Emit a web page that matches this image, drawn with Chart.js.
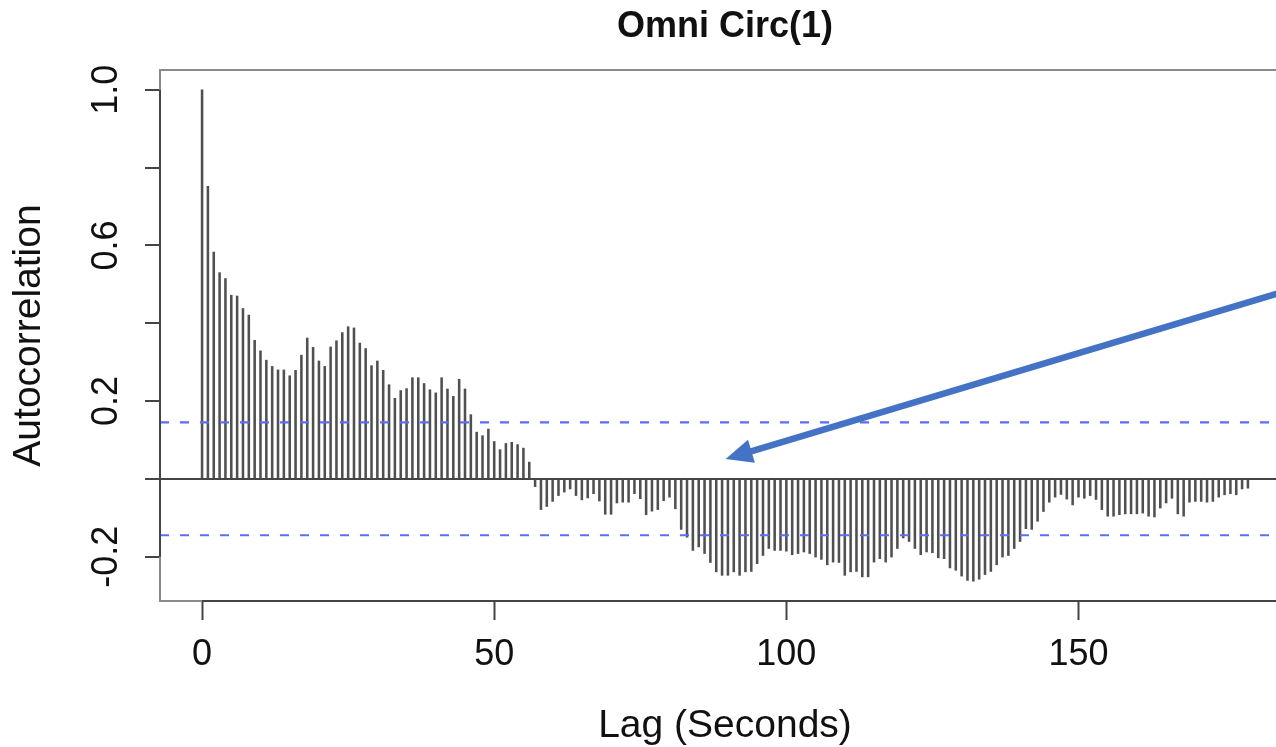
<!DOCTYPE html>
<html>
<head>
<meta charset="utf-8">
<title>Omni Circ(1)</title>
<script src="https://cdn.jsdelivr.net/npm/chart.js@4.4.1/dist/chart.umd.min.js"></script>
<style>
  html, body { margin: 0; padding: 0; background: #fff; overflow: hidden; }
  #wrap { width: 1450px; height: 747px; }
</style>
</head>
<body>
<div id="wrap"><canvas id="acf" width="1450" height="747"></canvas></div>
<script>
// autocorrelation per lag (lag 0 .. 179)
var acfValues = [
  1.000, 0.752, 0.583, 0.530, 0.515, 0.472, 0.470, 0.438, 0.421, 0.356,
  0.329, 0.305, 0.289, 0.280, 0.280, 0.265, 0.279, 0.318, 0.362, 0.338,
  0.303, 0.289, 0.339, 0.355, 0.376, 0.391, 0.388, 0.349, 0.335, 0.291,
  0.303, 0.279, 0.242, 0.207, 0.227, 0.232, 0.260, 0.260, 0.245, 0.229,
  0.221, 0.260, 0.231, 0.212, 0.256, 0.231, 0.165, 0.120, 0.111, 0.128,
  0.096, 0.075, 0.091, 0.094, 0.088, 0.079, 0.043, -0.020, -0.079, -0.071,
  -0.058, -0.043, -0.034, -0.026, -0.043, -0.054, -0.049, -0.038, -0.057, -0.091,
  -0.091, -0.062, -0.060, -0.060, -0.038, -0.051, -0.092, -0.083, -0.079, -0.056,
  -0.047, -0.077, -0.130, -0.150, -0.184, -0.175, -0.192, -0.215, -0.239, -0.248,
  -0.248, -0.239, -0.248, -0.239, -0.238, -0.218, -0.197, -0.179, -0.184, -0.184,
  -0.186, -0.195, -0.192, -0.188, -0.192, -0.201, -0.207, -0.221, -0.214, -0.215,
  -0.248, -0.239, -0.238, -0.252, -0.252, -0.214, -0.205, -0.214, -0.201, -0.179,
  -0.152, -0.161, -0.179, -0.195, -0.188, -0.190, -0.203, -0.205, -0.229, -0.235,
  -0.250, -0.261, -0.263, -0.258, -0.246, -0.238, -0.221, -0.201, -0.197, -0.179,
  -0.161, -0.128, -0.130, -0.109, -0.084, -0.060, -0.047, -0.040, -0.052, -0.067,
  -0.047, -0.050, -0.043, -0.053, -0.079, -0.096, -0.096, -0.092, -0.090, -0.090,
  -0.090, -0.088, -0.096, -0.098, -0.075, -0.062, -0.050, -0.090, -0.096, -0.060,
  -0.058, -0.058, -0.060, -0.058, -0.047, -0.041, -0.038, -0.041, -0.026, -0.024
];
var lags = acfValues.map(function (v, i) { return i; });

var confBounds = [0.145, -0.145];
var xRange = [-7.2, 186.2];
var yRange = [-0.314, 1.051];
var yLabelValues = [-0.2, 0.2, 0.6, 1.0];
var yLabelTexts = ['-0.2', '0.2', '0.6', '1.0'];

var chartTitle = 'Omni Circ(1)';
var xTitle = 'Lag (Seconds)';
var yTitle = 'Autocorrelation';

// annotation arrow, in data units (lag, acf)
var arrowFrom = { x: 186, y: 0.485 };
var arrowTo = { x: 89.6, y: 0.051 };

var fam = '"Liberation Sans", Arial, Helvetica, sans-serif';

var barData = lags.map(function (l, i) { return { x: l, y: acfValues[i] }; });
var confSets = confBounds.map(function (b) {
    return {
        type: 'line',
        data: [{ x: xRange[0], y: b }, { x: xRange[1], y: b }],
        borderColor: '#5b6df7',
        borderWidth: 2.2,
        borderDash: [9, 11],
        pointRadius: 0,
        order: 1
    };
});

var rStyle = {
    id: 'rStyle',
    afterDraw: function (chart) {
        var ctx = chart.ctx, a = chart.chartArea;
        var sx = chart.scales.x, sy = chart.scales.y;
        ctx.save();

        // box round the plot
        ctx.strokeStyle = '#8a8a8a';
        ctx.lineWidth = 2;
        ctx.strokeRect(a.left, a.top, a.right - a.left, a.bottom - a.top);

        // axis lines only over the tick span
        ctx.strokeStyle = '#444';
        ctx.beginPath();
        ctx.moveTo(a.left, sy.getPixelForValue(-0.2));
        ctx.lineTo(a.left, sy.getPixelForValue(1.0));
        ctx.moveTo(sx.getPixelForValue(0), a.bottom);
        ctx.lineTo(sx.getPixelForValue(200), a.bottom);
        ctx.stroke();

        // rotated y tick labels
        ctx.fillStyle = '#111';
        ctx.font = '36px ' + fam;
        ctx.textAlign = 'center';
        ctx.textBaseline = 'alphabetic';
        yLabelValues.forEach(function (v, i) {
            ctx.save();
            ctx.translate(a.left - 43, sy.getPixelForValue(v));
            ctx.rotate(-Math.PI / 2);
            ctx.fillText(yLabelTexts[i], 0, 0);
            ctx.restore();
        });

        // title over the plot region
        ctx.font = 'bold 36px ' + fam;
        ctx.fillText(chartTitle, (a.left + a.right) / 2, 37);

        // arrow
        var x1 = sx.getPixelForValue(arrowFrom.x), y1 = sy.getPixelForValue(arrowFrom.y);
        var x2 = sx.getPixelForValue(arrowTo.x), y2 = sy.getPixelForValue(arrowTo.y);
        var ang = Math.atan2(y2 - y1, x2 - x1);
        var headLen = 27, headW = 12;
        var bx = x2 - headLen * Math.cos(ang), by = y2 - headLen * Math.sin(ang);
        ctx.strokeStyle = '#4472c4';
        ctx.fillStyle = '#4472c4';
        ctx.lineWidth = 6.5;
        ctx.beginPath();
        ctx.moveTo(x1, y1);
        ctx.lineTo(bx + 3 * Math.cos(ang), by + 3 * Math.sin(ang));
        ctx.stroke();
        ctx.beginPath();
        ctx.moveTo(x2, y2);
        ctx.lineTo(bx + headW * Math.sin(ang), by - headW * Math.cos(ang));
        ctx.lineTo(bx - headW * Math.sin(ang), by + headW * Math.cos(ang));
        ctx.closePath();
        ctx.fill();

        ctx.restore();
    }
};

new Chart(document.getElementById('acf'), {
    type: 'bar',
    data: {
        datasets: [{
            data: barData,
            backgroundColor: '#505050',
            barThickness: 1.9,
            order: 2
        }].concat(confSets)
    },
    options: {
        responsive: false,
        animation: false,
        layout: { padding: { left: 0, right: 160, top: 70, bottom: 0 } },
        plugins: { legend: { display: false }, title: { display: false }, tooltip: { enabled: false } },
        scales: {
            x: {
                type: 'linear',
                min: xRange[0],
                max: xRange[1],
                offset: false,
                border: { display: false },
                grid: { drawOnChartArea: false, offset: false, tickLength: 19, tickColor: '#444', tickWidth: 2 },
                ticks: {
                    stepSize: 50, includeBounds: false, maxRotation: 0, autoSkip: false,
                    padding: 13, color: '#111', font: { family: fam, size: 36 }
                },
                title: {
                    display: true, text: xTitle, color: '#111',
                    font: { family: fam, size: 39, lineHeight: 1 },
                    padding: { top: 0, bottom: 1 }
                },
                afterFit: function (s) { s.height = 146; }
            },
            y: {
                min: yRange[0],
                max: yRange[1],
                border: { display: false },
                grid: {
                    color: function (c) { return c.tick && Math.abs(c.tick.value) < 1e-9 ? '#444' : 'rgba(0,0,0,0)'; },
                    lineWidth: 2,
                    tickLength: 15, tickColor: '#444', tickWidth: 2
                },
                ticks: { stepSize: 0.2, includeBounds: false, display: false },
                title: {
                    display: true, text: yTitle, color: '#111',
                    font: { family: fam, size: 39, lineHeight: 1 },
                    padding: { top: 10, bottom: 0 }
                },
                afterFit: function (s) { s.width = 160; }
            }
        }
    },
    plugins: [rStyle]
});
</script>
</body>
</html>
